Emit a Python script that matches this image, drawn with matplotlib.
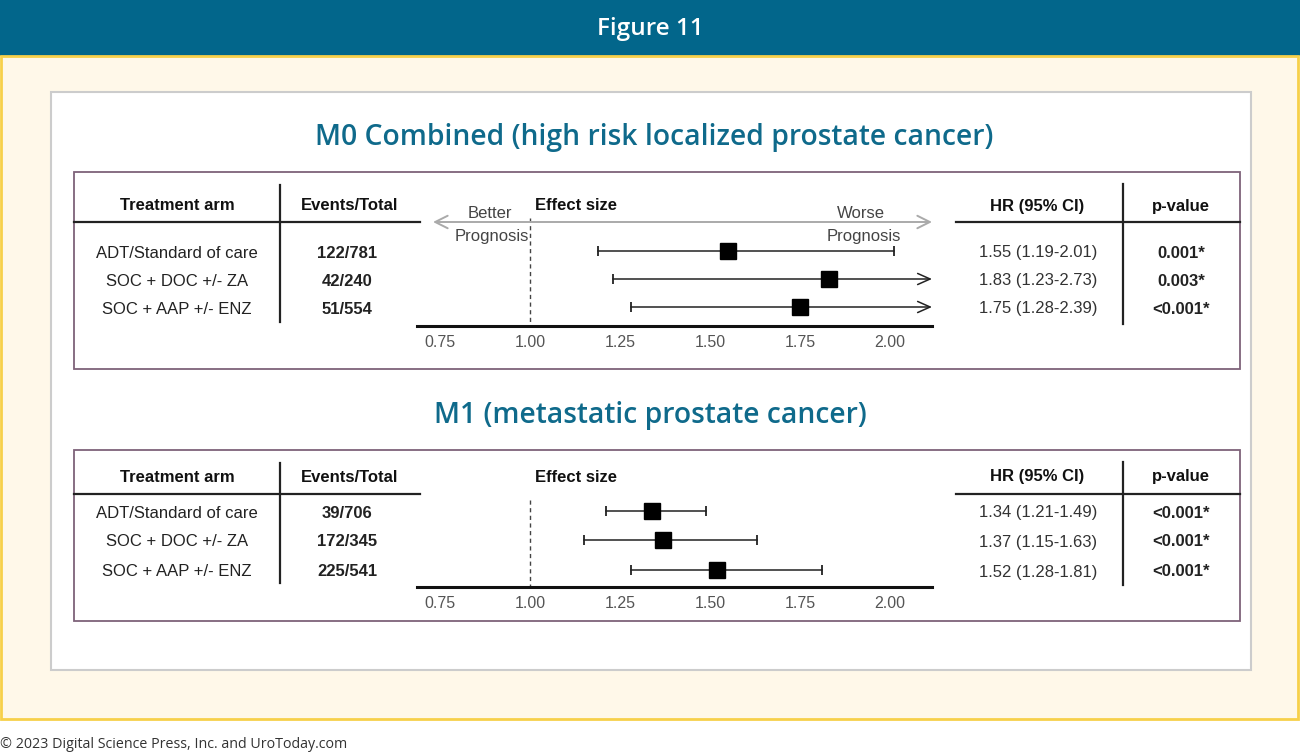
import matplotlib
matplotlib.use("Agg")
import matplotlib.pyplot as plt
from matplotlib.patches import Rectangle

# ---------------- data ----------------
arms = ["ADT/Standard of care", "SOC + DOC +/- ZA", "SOC + AAP +/- ENZ"]
m0_events = ["122/781", "42/240", "51/554"]
m0_hr = [1.55, 1.83, 1.75]
m0_lo = [1.19, 1.23, 1.28]
m0_hi = [2.01, 2.73, 2.39]
m0_p = ["0.001*", "0.003*", "<0.001*"]

m1_events = ["39/706", "172/345", "225/541"]
m1_hr = [1.34, 1.37, 1.52]
m1_lo = [1.21, 1.15, 1.28]
m1_hi = [1.49, 1.63, 1.81]
m1_p = ["<0.001*", "<0.001*", "<0.001*"]

xticks = [0.75, 1.00, 1.25, 1.50, 1.75, 2.00]
headers = ["Treatment arm", "Events/Total", "Effect size", "HR (95% CI)", "p-value"]
fig_title = "Figure 11"
title_m0 = "M0 Combined (high risk localized prostate cancer)"
title_m1 = "M1 (metastatic prostate cancer)"
footer = "\u00a9 2023 Digital Science Press, Inc. and UroToday.com"

# ---------------- layout ----------------
W, H = 1300, 755
fig = plt.figure(figsize=(W / 100, H / 100), dpi=100)
fig.patch.set_facecolor("white")
bg = fig.add_axes([0, 0, 1, 1])
bg.set_xlim(0, W)
bg.set_ylim(H, 0)
bg.axis("off")

SANS = ["Liberation Sans", "DejaVu Sans"]
HEAD = ["Open Sans", "DejaVu Sans"]
BLUE = "#02668B"
TITLE_C = "#0F6A8B"
BOX_C = "#7E6279"

# header band + cream area
bg.add_patch(Rectangle((0, 0), W, 56, facecolor=BLUE, edgecolor="none"))
bg.add_patch(Rectangle((1, 56), W - 3, 663, facecolor="#FFF8E9", edgecolor="#F7D04A", lw=2))
bg.text(650, 29, fig_title, color="white", ha="center", va="center",
        fontsize=17.5, family=HEAD, fontweight="semibold")
# white panel
bg.add_patch(Rectangle((51, 92), 1200, 578, facecolor="white", edgecolor="#CCCCCC", lw=1.5))
bg.text(0, 745, footer, ha="left", va="center", fontsize=10.3, family=HEAD, color="#333333")

bg.text(654, 138, title_m0, ha="center", va="center", fontsize=20.3,
        family=HEAD, fontweight="semibold", color=TITLE_C)
bg.text(650, 416, title_m1, ha="center", va="center", fontsize=20.3,
        family=HEAD, fontweight="semibold", color=TITLE_C)


def px_to_val(x):
    return 1.0 + (x - 530.0) / 360.0


XMIN, XMAX = px_to_val(417), px_to_val(932)
col_x = [177, 350, 576, 1037, 1181]


def panel(top, bottom, header_y, hline_y, rows_y, axis_y, dot_top,
          events, hr, lo, hi, pvals, prognosis):
    bg.add_patch(Rectangle((74, top), 1166, bottom - top, facecolor="none",
                           edgecolor=BOX_C, lw=1.3))
    for i, h in enumerate(headers):
        bg.text(col_x[i], header_y + 2, h, ha="center", va="center", fontsize=12,
                family=SANS, fontweight="bold", color="#111111")
    bg.plot([74, 420], [hline_y, hline_y], color="#222222", lw=1.6)
    bg.plot([956, 1240], [hline_y, hline_y], color="#222222", lw=1.6)
    bg.plot([280, 280], [top + 13, axis_y - 4], color="#222222", lw=1.6)
    bg.plot([1123, 1123], [top + 12, axis_y - 2], color="#222222", lw=1.6)
    for i, y in enumerate(rows_y):
        bg.text(177, y + 2, arms[i], ha="center", va="center", fontsize=12,
                family=SANS, color="#222222")
        bg.text(347, y + 2, events[i], ha="center", va="center", fontsize=12,
                family=SANS, fontweight="bold", color="#222222")
        bg.text(1038, y + 2, f"{hr[i]:.2f} ({lo[i]:.2f}-{hi[i]:.2f})", ha="center",
                va="center", fontsize=12, family=SANS, color="#333333")
        bg.text(1181, y + 2, pvals[i], ha="center", va="center", fontsize=12,
                family=SANS, fontweight="bold", color="#222222")

    ax = fig.add_axes([417 / W, 1 - axis_y / H, (932 - 417) / W, (axis_y - (top + 10)) / H])
    ax.set_xlim(XMIN, XMAX)
    ax.set_ylim(axis_y, top + 10)
    ax.patch.set_alpha(0)
    for s in ["top", "left", "right"]:
        ax.spines[s].set_visible(False)
    ax.spines["bottom"].set_linewidth(2.2)
    ax.spines["bottom"].set_color("#111111")
    ax.set_yticks([])
    ax.set_xticks(xticks)
    ax.set_xticklabels([f"{t:.2f}" for t in xticks])
    ax.tick_params(axis="x", length=0, pad=6.5, labelsize=11.5, labelcolor="#555555")
    for lab in ax.get_xticklabels():
        lab.set_family(SANS)

    ax.plot([1.0, 1.0], [dot_top, axis_y], color="#444444", lw=1, ls=(0, (3, 2.5)))

    if prognosis:
        ay = 222
        ax.annotate("", xy=(px_to_val(932), ay), xytext=(px_to_val(433), ay),
                    arrowprops=dict(arrowstyle="<->,head_length=0.9,head_width=0.45",
                                    color="#AAAAAA", lw=1.4, shrinkA=0, shrinkB=0))
        ax.text(px_to_val(490), 213, "Better", ha="center", va="center",
                fontsize=12, family=SANS, color="#444444")
        ax.text(px_to_val(492), 236, "Prognosis", ha="center", va="center",
                fontsize=12, family=SANS, color="#444444")
        ax.text(px_to_val(861), 213, "Worse", ha="center", va="center",
                fontsize=12, family=SANS, color="#444444")
        ax.text(px_to_val(864), 236, "Prognosis", ha="center", va="center",
                fontsize=12, family=SANS, color="#444444")

    for i, y in enumerate(rows_y):
        if hi[i] > XMAX:
            ax.annotate("", xy=(XMAX, y), xytext=(lo[i], y),
                        arrowprops=dict(arrowstyle="->,head_length=0.9,head_width=0.4",
                                        color="#222222", lw=1.1, shrinkA=0, shrinkB=0))
            ax.plot([lo[i]], [y], marker="|", ms=7, mew=1.3, color="#222222")
        else:
            ax.plot([lo[i], hi[i]], [y, y], color="#222222", lw=1.1)
            ax.plot([lo[i], hi[i]], [y, y], ls="none", marker="|", ms=7, mew=1.3,
                    color="#222222")
        ax.plot([hr[i]], [y], marker="s", ms=11, color="black", zorder=5)
    return ax


panel(172, 369, 204, 222, [251, 279, 307], 326, 218,
      m0_events, m0_hr, m0_lo, m0_hi, m0_p, True)
panel(450, 621, 475, 494, [511, 540, 570], 587, 500,
      m1_events, m1_hr, m1_lo, m1_hi, m1_p, False)

fig.savefig("out.png", dpi=100)
